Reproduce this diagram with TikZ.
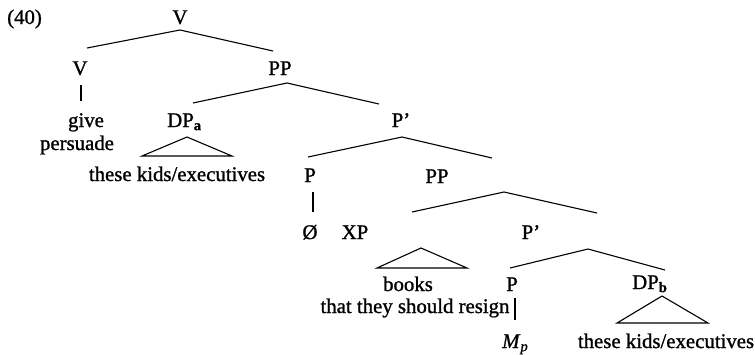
\documentclass[tikz,border=0pt]{standalone}
\usepackage{fontspec}
\setmainfont{Liberation Serif}[FakeBold=1.1]
\begin{document}
\begin{tikzpicture}[x=1pt,y=-1pt,
  lbl/.style={inner sep=0pt, anchor=base, font=\fontsize{20.8}{24}\selectfont},
  branch/.style={line width=1.1pt, line join=miter},
  roof/.style={line width=1.1pt, line join=miter}]
\useasboundingbox (0,0) rectangle (755,354);

% --- labels -------------------------------------------------------------
\node[lbl, anchor=base west] (num) at (7,24) {(40)};
\node[lbl] (V0)   at (180,24)  {V};
\node[lbl] (V1)   at (80,75)   {V};
\node[lbl] (PP1)  at (280,75)  {PP};
\node[lbl] (give) at (86,127)  {give};
\node[lbl] (pers) at (77,150)  {persuade};
\node[lbl, anchor=base west] (DPa) at (167,127) {DP\textsubscript{\textbf{a}}};
\node[lbl] (Pb1)  at (401,127) {P’};
\node[lbl] (kidsA) at (177,181) {these kids/executives};
\node[lbl] (P1)   at (310,182) {P};
\node[lbl] (PP2)  at (437,183) {PP};
\node[lbl] (null) at (310,239) {Ø};
\node[lbl] (XP)   at (355,239) {XP};
\node[lbl] (Pb2)  at (531,239) {P’};
\node[lbl] (books) at (408,291) {books};
\node[lbl] (P2)   at (512,291) {P};
\node[lbl, anchor=base west] (DPb) at (632,289) {DP\textsubscript{\textbf{b}}};
\node[lbl] (resign) at (415,313) {that they should resign};
\node[lbl, anchor=base west] (Mp) at (502,348) {\textit{M}\textsubscript{\textit{p}}};
\node[lbl] (kidsB) at (666,348) {these kids/executives};

% --- branch points ------------------------------------------------------
\coordinate (V0-a) at (180,30);  \coordinate (V0-l) at (87,48);   \coordinate (V0-r) at (273,51);
\coordinate (PP1-a) at (287,83); \coordinate (PP1-l) at (193,103); \coordinate (PP1-r) at (379,104);
\coordinate (Pb1-a) at (402,137); \coordinate (Pb1-l) at (308,157); \coordinate (Pb1-r) at (492,158);
\coordinate (PP2-a) at (504,192); \coordinate (PP2-l) at (412,212); \coordinate (PP2-r) at (597,213);
\coordinate (Pb2-a) at (588,249); \coordinate (Pb2-l) at (510,268); \coordinate (Pb2-r) at (665,270);

% unary branches
\coordinate (V1-t) at (81,85);   \coordinate (V1-b) at (81,101);
\coordinate (P1-t) at (313,192); \coordinate (P1-b) at (313,212);
\coordinate (P2-t) at (515,298); \coordinate (P2-b) at (515,320);

% roofs
\coordinate (DPa-a) at (187,137); \coordinate (DPa-l) at (142,156); \coordinate (DPa-r) at (232,156);
\coordinate (XP-a) at (421,248);  \coordinate (XP-l) at (377,268);  \coordinate (XP-r) at (467,268);
\coordinate (DPb-a) at (662,296); \coordinate (DPb-l) at (617,323); \coordinate (DPb-r) at (708,323);

% --- branches -----------------------------------------------------------
\draw[branch] (V0-l) -- (V0-a) -- (V0-r);
\draw[branch] (PP1-l) -- (PP1-a) -- (PP1-r);
\draw[branch] (Pb1-l) -- (Pb1-a) -- (Pb1-r);
\draw[branch] (PP2-l) -- (PP2-a) -- (PP2-r);
\draw[branch] (Pb2-l) -- (Pb2-a) -- (Pb2-r);

\draw[branch] (V1-t) -- (V1-b);
\draw[branch] (P1-t) -- (P1-b);
\draw[branch] (P2-t) -- (P2-b);

\draw[roof] (DPa-a) -- (DPa-l) -- (DPa-r) -- cycle;
\draw[roof] (XP-a) -- (XP-l) -- (XP-r) -- cycle;
\draw[roof] (DPb-a) -- (DPb-l) -- (DPb-r) -- cycle;
\end{tikzpicture}
\end{document}
